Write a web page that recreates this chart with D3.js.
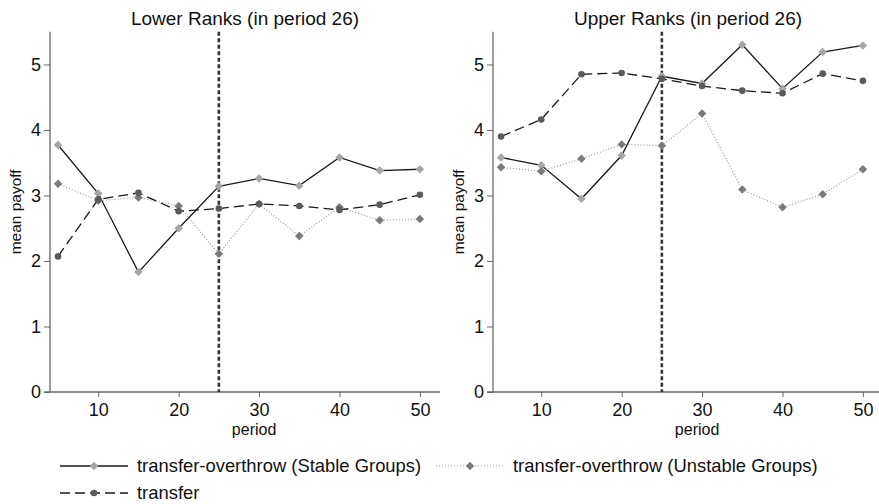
<!DOCTYPE html>
<html>
<head>
<meta charset="utf-8">
<script src="https://cdn.jsdelivr.net/npm/d3@7"></script>
<style>
  body { margin: 0; background: #fff; }
  svg { font-family: "Liberation Sans", Arial, sans-serif; display: block; }
</style>
</head>
<body>
<script>
var width = 879;
var height = 504;

// data
var periods = [5, 10, 15, 20, 25, 30, 35, 40, 45, 50];
var xTicks = [10, 20, 30, 40, 50];
var yTicks = [0, 1, 2, 3, 4, 5];
var panelTitles = ['Lower Ranks (in period 26)', 'Upper Ranks (in period 26)'];
var seriesNames = ['transfer-overthrow (Stable Groups)', 'transfer-overthrow (Unstable Groups)', 'transfer'];

var lowerStable   = [3.77, 3.03, 1.83, 2.50, 3.14, 3.26, 3.15, 3.58, 3.38, 3.40];
var lowerUnstable = [3.18, 2.92, 2.97, 2.84, 2.11, 2.87, 2.38, 2.82, 2.62, 2.64];
var lowerTransfer = [2.07, 2.94, 3.04, 2.76, 2.80, 2.87, 2.84, 2.78, 2.86, 3.01];

var upperStable   = [3.58, 3.46, 2.95, 3.61, 4.82, 4.71, 5.30, 4.63, 5.19, 5.29];
var upperUnstable = [3.43, 3.37, 3.56, 3.78, 3.76, 4.25, 3.09, 2.82, 3.02, 3.40];
var upperTransfer = [3.90, 4.16, 4.85, 4.87, 4.78, 4.67, 4.60, 4.56, 4.86, 4.75];

var breakPeriod = 25;

// line styles per series
var styles = [
  { stroke: '#1a1a1a', dash: null, width: 1.3, marker: 'diamond', fill: '#a6a6a6' },
  { stroke: '#9a9a9a', dash: '1,2', width: 1.2, marker: 'diamond', fill: '#7a7a7a' },
  { stroke: '#1a1a1a', dash: '10,5', width: 1.3, marker: 'circle', fill: '#5a5a5a' }
];

var panels = [
  { left: 50, right: 440, series: [lowerStable, lowerUnstable, lowerTransfer] },
  { left: 493, right: 883, series: [upperStable, upperUnstable, upperTransfer] }
];

var svg = d3.select('body')
  .append('svg')
  .attr('width', width)
  .attr('height', height);

var y = d3.scaleLinear().domain([0, 5.5]).range([392, 31.7]);

var diamond = d3.symbol().type(d3.symbolDiamond2).size(46);

panels.forEach(function(p, pi) {
  var x = d3.scaleLinear().domain([4, 52.5]).range([p.left, p.right]);
  var g = svg.append('g');

  // title
  g.append('text')
    .attr('x', (p.left + Math.min(p.right, 879)) / 2 + (pi == 1 ? 2 : 0))
    .attr('y', 25)
    .attr('text-anchor', 'middle')
    .attr('font-size', 19)
    .attr('fill', '#111')
    .text(panelTitles[pi]);

  // y axis
  var yAxis = g.append('g')
    .attr('transform', 'translate(' + p.left + ',0)')
    .call(d3.axisLeft(y).tickValues(yTicks).tickSize(6).tickPadding(3).tickFormat(d3.format('d')));
  yAxis.select('.domain').attr('stroke', '#666').attr('stroke-width', 1.3).attr('d', 'M0,' + y(5.5) + 'V' + y(0));
  yAxis.selectAll('.tick line').attr('stroke', '#666');
  yAxis.selectAll('.tick text').attr('font-size', 18).attr('fill', '#111').attr('font-family', null);

  // x axis
  var xAxis = g.append('g')
    .attr('transform', 'translate(0,' + y(0) + ')')
    .call(d3.axisBottom(x).tickValues(xTicks).tickSize(5).tickPadding(6).tickFormat(d3.format('d')));
  xAxis.select('.domain').attr('stroke', '#666').attr('stroke-width', 1.3).attr('d', 'M' + (p.left - 6) + ',0H' + p.right);
  xAxis.selectAll('.tick line').attr('stroke', '#666');
  xAxis.selectAll('.tick text').attr('font-size', 18).attr('fill', '#111').attr('font-family', null);

  // axis titles
  g.append('text')
    .attr('x', (x(10) + x(50)) / 2 - 5)
    .attr('y', 434.5)
    .attr('text-anchor', 'middle')
    .attr('font-size', 16)
    .attr('fill', '#111')
    .text('period');

  g.append('text')
    .attr('transform', 'translate(' + (p.left - 29.5) + ',' + y(2.75) + ') rotate(-90)')
    .attr('text-anchor', 'middle')
    .attr('font-size', 15.5)
    .attr('fill', '#111')
    .text('mean payoff');

  // vertical reference line
  g.append('line')
    .attr('x1', x(breakPeriod)).attr('x2', x(breakPeriod))
    .attr('y1', y(5.5)).attr('y2', y(0))
    .attr('stroke', '#333')
    .attr('stroke-width', 2.6)
    .attr('stroke-dasharray', '4,2.5');

  // series
  p.series.forEach(function(vals, si) {
    var st = styles[si];
    var pts = periods.map(function(d, i) { return [d, vals[i]]; });
    var line = d3.line()
      .x(function(d) { return x(d[0]); })
      .y(function(d) { return y(d[1]); });

    g.append('path')
      .datum(pts)
      .attr('d', line)
      .attr('fill', 'none')
      .attr('stroke', st.stroke)
      .attr('stroke-width', st.width)
      .attr('stroke-dasharray', st.dash);

    var m = g.selectAll('.m' + si)
      .data(pts)
      .enter();
    if (st.marker == 'diamond') {
      m.append('path')
        .attr('d', diamond)
        .attr('transform', function(d) { return 'translate(' + x(d[0]) + ',' + y(d[1]) + ')'; })
        .attr('fill', st.fill);
    } else {
      m.append('circle')
        .attr('cx', function(d) { return x(d[0]); })
        .attr('cy', function(d) { return y(d[1]); })
        .attr('r', 3.3)
        .attr('fill', st.fill);
    }
  });
});

// legend
var legendPos = [[60, 466], [436, 466], [60, 493]];
var legend = svg.append('g')
  .selectAll('g')
  .data(seriesNames)
  .enter()
  .append('g')
  .attr('transform', function(d, i) { return 'translate(' + legendPos[i][0] + ',' + legendPos[i][1] + ')'; });

legend.append('line')
  .attr('x1', 0).attr('x2', 68)
  .attr('y1', 0).attr('y2', 0)
  .attr('stroke', function(d, i) { return styles[i].stroke; })
  .attr('stroke-width', function(d, i) { return styles[i].width; })
  .attr('stroke-dasharray', function(d, i) { return styles[i].dash; });

legend.each(function(d, i) {
  var st = styles[i];
  var sel = d3.select(this);
  if (st.marker == 'diamond') {
    sel.append('path').attr('d', diamond).attr('transform', 'translate(34,0)').attr('fill', st.fill);
  } else {
    sel.append('circle').attr('cx', 34).attr('cy', 0).attr('r', 3.3).attr('fill', st.fill);
  }
});

legend.append('text')
  .attr('x', 77)
  .attr('y', 5.5)
  .attr('font-size', 18.4)
  .attr('fill', '#111')
  .text(function(d) { return d; });
</script>
</body>
</html>
